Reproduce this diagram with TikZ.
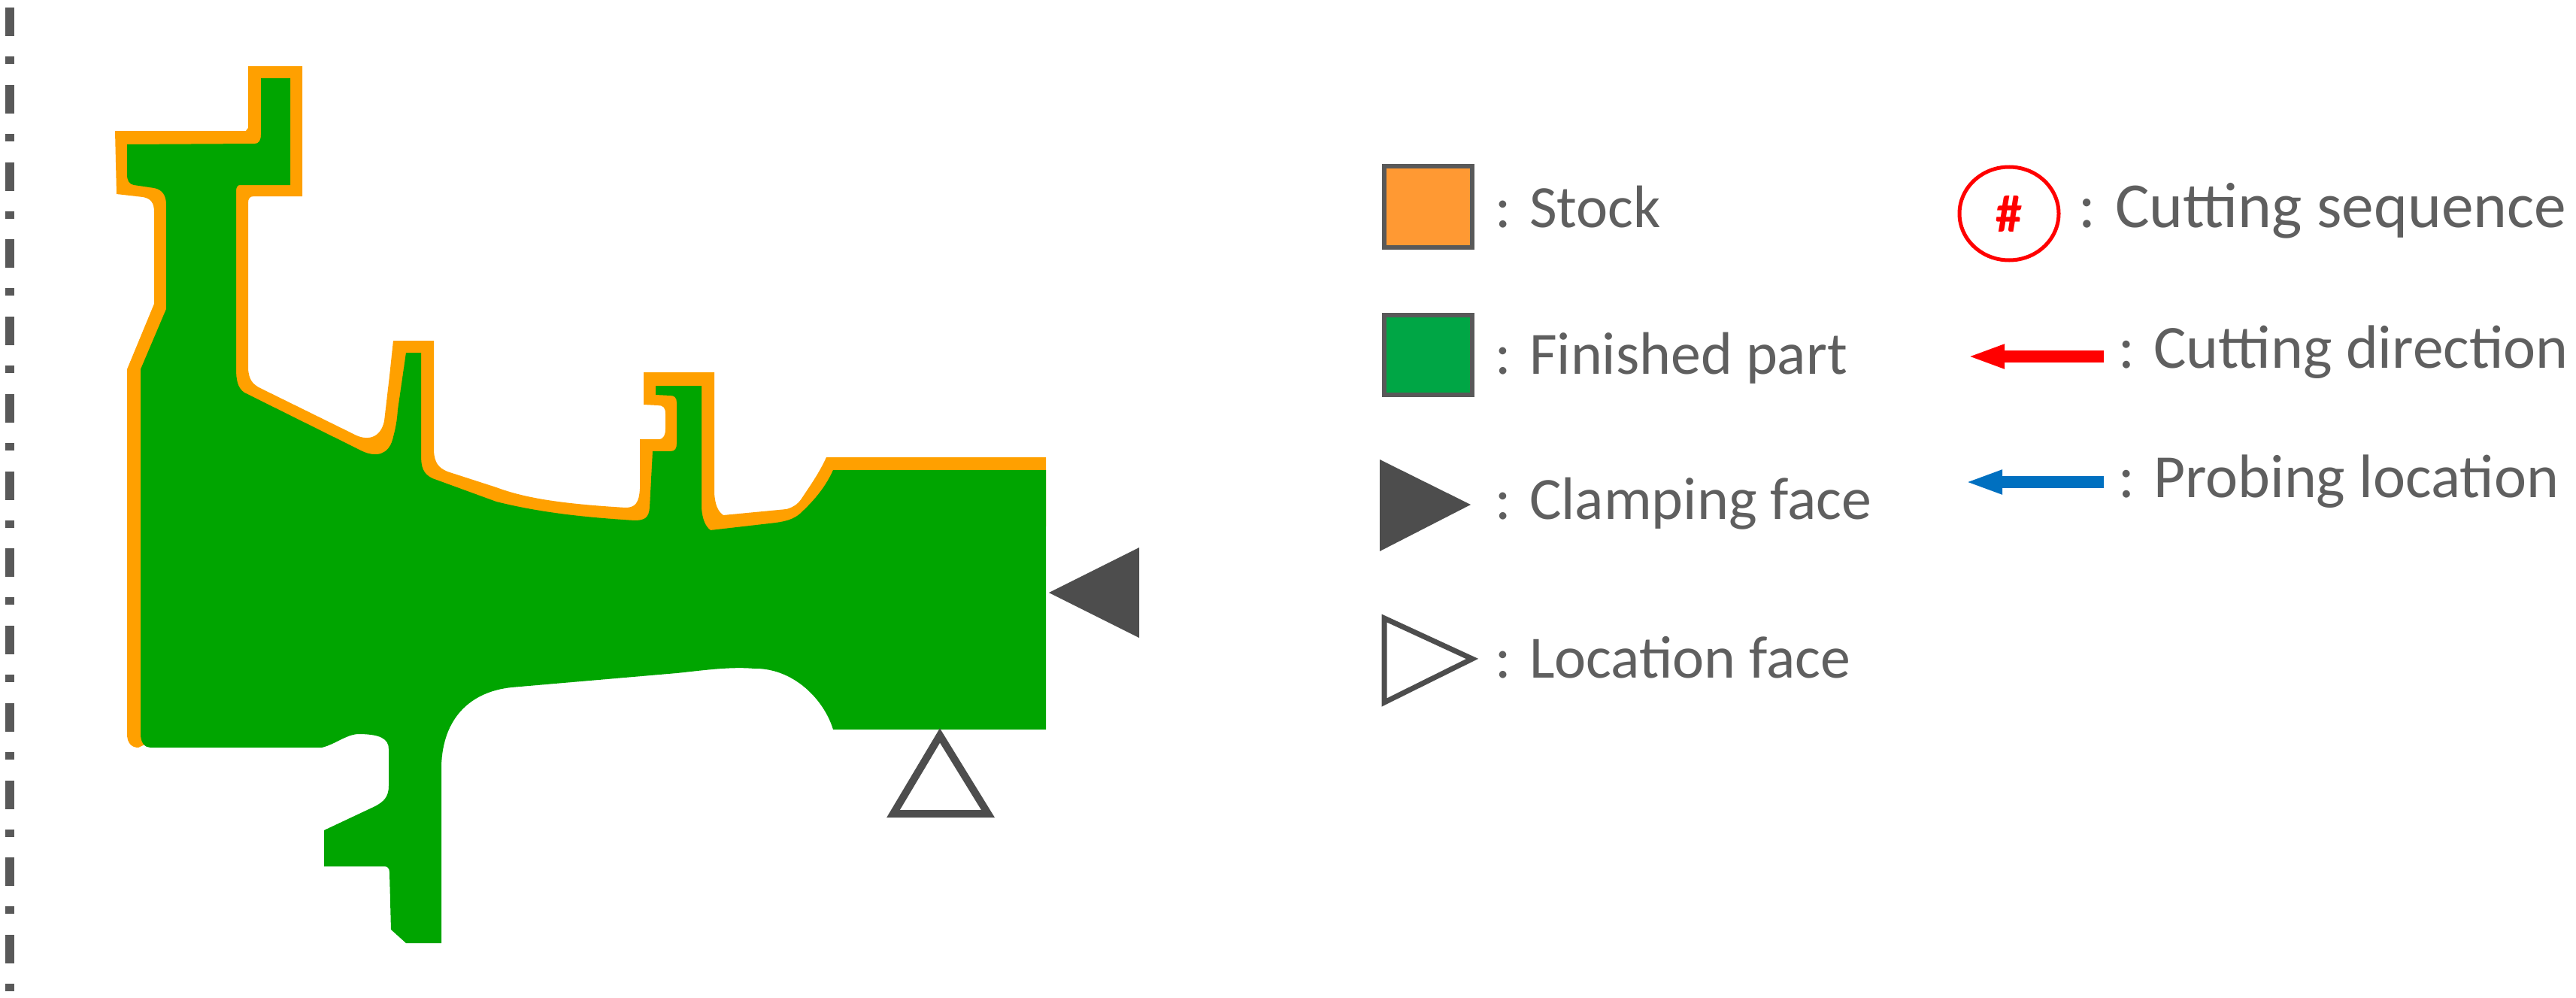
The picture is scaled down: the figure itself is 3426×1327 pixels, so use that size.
\documentclass[tikz,border=0pt]{standalone}
\usepackage{fontspec}
\setmainfont{Carlito}
\usetikzlibrary{arrows.meta}
\definecolor{partgreen}{RGB}{0,165,0}
\definecolor{stockorange}{RGB}{255,160,0}
\definecolor{legorange}{RGB}{255,153,51}
\definecolor{leggreen}{RGB}{0,166,69}
\definecolor{darkgrey}{RGB}{77,77,77}
\definecolor{edgegrey}{RGB}{89,89,89}
\definecolor{txtgrey}{RGB}{95,95,95}
\definecolor{probeblue}{RGB}{0,112,192}
\tikzset{
  legbox/.style={draw=edgegrey,line width=0.06cm},
  legtext/.style={anchor=base west,inner sep=0pt,text=txtgrey,font=\fontsize{22.7}{26}\selectfont},
  legtextb/.style={anchor=base west,inner sep=0pt,text=txtgrey,font=\fontsize{23.2}{28}\selectfont},
  flatarrow/.style={line width=0.16cm,-{Triangle[length=0.5cm,width=0.29cm]}},
}
\begin{document}
\begin{tikzpicture}[x=0.01cm,y=-0.01cm]
\useasboundingbox (0,0) rectangle (3426,1327);
% axis line
\draw[edgegrey,line width=0.11cm,dash pattern=on 0.38cm off 0.27cm on 0.1cm off 0.277cm] (13,10) -- (13,1318);
% stock
\fill[stockorange] (330,88)--(402,88)--(402,261)--(338,261)
 ..controls(332,261)and(330,264)..(330,270)--(330,490)
 ..controls(331,505)and(336,510)..(344,515)--(470,577)
 ..controls(488,587)and(506,583)..(511,560)--(518,500)--(523,453)--(577,453)--(577,600)
 ..controls(578,615)and(583,622)..(595,627)--(660,648)
 ..controls(700,663)and(750,670)..(832,675)
 ..controls(845,675)and(850,668)..(851,650)--(851,584)--(876,584)
 ..controls(883,584)and(885,578)..(885,570)--(885,550)
 ..controls(885,542)and(882,539)..(875,539)--(856,538)--(856,495)--(950,495)--(950,655)
 ..controls(951,672)and(955,680)..(962,685)--(1046,677)
 ..controls(1056,674)and(1062,670)..(1068,660)
 ..controls(1078,645)and(1090,628)..(1099,608)--(1391,608)--(1391,700)--(600,800)--(184,994)
 ..controls(175,994)and(169,988)..(169,976)--(169,491)--(205,404)--(205,282)
 ..controls(205,270)and(201,264)..(190,262)--(155,258)--(153,174)--(327,174)--(330,170)--cycle;
% finished part
\fill[partgreen] (347,104)--(386,104)--(386,246)--(319,246)
 ..controls(316,246)and(314,249)..(314,254)--(314,490)
 ..controls(314,505)and(316,516)..(325,522)--(482,600)
 ..controls(500,608)and(516,605)..(522,585)
 ..controls(526,570)and(528,560)..(529,545)--(540,469)--(560,469)--(560,605)
 ..controls(560,622)and(563,630)..(575,636)--(660,667)
 ..controls(720,682)and(780,688)..(844,692)
 ..controls(858,692)and(863,688)..(864,675)--(868,600)--(892,600)
 ..controls(898,600)and(900,596)..(900,590)--(900,535)
 ..controls(900,529)and(897,526)..(892,526)--(872,525)--(872,513)--(933,513)--(933,675)
 ..controls(934,690)and(938,700)..(945,705)--(1032,695)
 ..controls(1046,693)and(1056,690)..(1064,683)
 ..controls(1080,668)and(1097,650)..(1108,625)--(1391,625)--(1391,970)--(1108,970)
 ..controls(1096,930)and(1055,888)..(1003,889)
 ..controls(970,886)and(930,892)..(900,895)--(680,914)
 ..controls(625,920)and(589,955)..(587,1018)--(587,1254)--(540,1254)--(520,1236)--(518,1160)
 ..controls(518,1154)and(515,1152)..(511,1152)--(431,1152)--(431,1104)--(499,1072)
 ..controls(510,1066)and(517,1060)..(517,1045)--(517,996)
 ..controls(517,982)and(505,976)..(476,976)
 ..controls(460,977)and(445,990)..(428,994)--(200,994)
 ..controls(193,994)and(187,988)..(187,976)--(187,491)--(221,411)--(221,272)
 ..controls(221,260)and(216,252)..(205,250)--(178,246)
 ..controls(172,245)and(169,240)..(169,232)--(169,192)--(339,191)
 ..controls(344,191)and(347,187)..(347,179)--cycle;
% supports on the part
\fill[darkgrey] (1395,788)--(1515,728)--(1515,848)--cycle;
\draw[darkgrey,line width=0.1cm,fill=white] (1250,978)--(1314,1082)--(1188,1082)--cycle;
% legend, left column
\draw[legbox,fill=legorange] (1841,221) rectangle (1958,329);
\draw[legbox,fill=leggreen] (1841,419) rectangle (1958,525);
\fill[darkgrey] (1835,611)--(1956,671)--(1835,733)--cycle;
\draw[darkgrey,line width=0.07cm,fill=white] (1841,822)--(1958,876)--(1841,934)--cycle;
\node[legtext] (stock) at (1988,302) {: Stock};
\node[legtext] (finished) at (1988,497) {: Finished part};
\node[legtext] (clamping) at (1988,690) {: Clamping face};
\node[legtext] (location) at (1988,901) {: Location face};
% legend, right column
\draw[red,line width=0.05cm] (2672,284) ellipse (66 and 62);
\node[inner sep=0pt,text=red,font=\fontsize{20}{24}\selectfont\bfseries] (hash) at (2672,284) {\#};
\node[legtextb,font=\fontsize{24.3}{28}\selectfont] (seq) at (2764,302) {: Cutting sequence};
\coordinate (redtail) at (2798,474);
\coordinate (redtip) at (2616,474);
\draw[flatarrow,red] (redtail) -- (redtip);
\node[legtextb] (dir) at (2817,489) {: Cutting direction};
\coordinate (bluetail) at (2798,641);
\coordinate (bluetip) at (2613,641);
\draw[flatarrow,probeblue] (bluetail) -- (bluetip);
\node[legtextb] (probe) at (2817,661) {: Probing location};
\end{tikzpicture}
\end{document}
